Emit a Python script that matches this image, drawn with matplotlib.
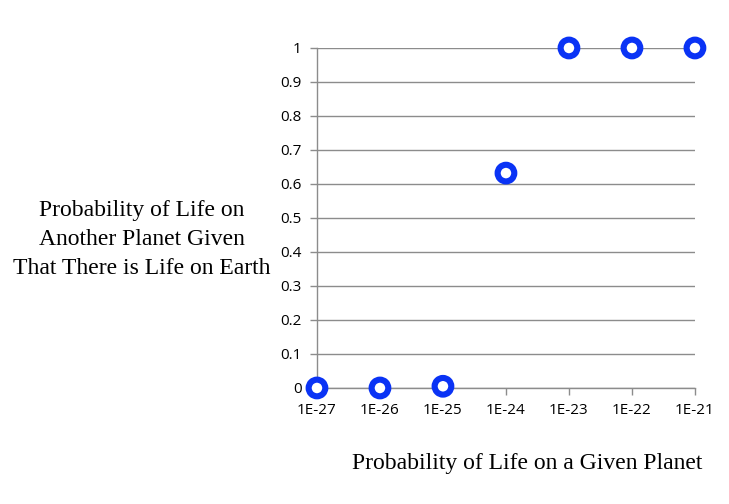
import matplotlib.pyplot as plt
import matplotlib.patheffects as pe

# data
categories = ["1E-27", "1E-26", "1E-25", "1E-24", "1E-23", "1E-22", "1E-21"]
values = [0.0, 0.0, 0.005, 0.632, 1.0, 1.0, 1.0]
yticks = [0, 0.1, 0.2, 0.3, 0.4, 0.5, 0.6, 0.7, 0.8, 0.9, 1]
ytick_labels = ["0", "0.1", "0.2", "0.3", "0.4", "0.5", "0.6", "0.7", "0.8", "0.9", "1"]

fig = plt.figure(figsize=(7.29, 5.04), dpi=100)
ax = fig.add_axes([0.4348, 0.2302, 0.5185, 0.6746])

xs = list(range(len(categories)))
ax.plot(xs, values, linestyle="none", marker="o", markersize=12,
        markerfacecolor="white", markeredgecolor="#0a33f5",
        markeredgewidth=4.4, clip_on=False, zorder=5,
        path_effects=[pe.SimplePatchShadow(offset=(1, -1.5), alpha=0.25), pe.Normal()])

ax.set_xlim(0, len(categories) - 1)
ax.set_ylim(0, 1)
ax.set_xticks(xs)
ax.set_xticklabels(categories, family="Open Sans", fontsize=11)
ax.set_yticks(yticks)
ax.set_yticklabels(ytick_labels, family="Open Sans", fontsize=11)

ax.grid(axis="y", color="#8c8c8c", linewidth=1)
ax.set_axisbelow(True)
for s in ["top", "right"]:
    ax.spines[s].set_visible(False)
for s in ["left", "bottom"]:
    ax.spines[s].set_color("#8c8c8c")
    ax.spines[s].set_linewidth(1)
ax.tick_params(axis="both", color="#8c8c8c", length=5, width=1)
ax.tick_params(axis="y", pad=6)
ax.tick_params(axis="x", pad=6)

fig.text(0.1948, 0.524,
         "Probability of Life on\nAnother Planet Given\nThat There is Life on Earth",
         ha="center", va="center", family="Liberation Serif", fontsize=17,
         linespacing=1.5)
fig.text(0.7229, 0.0813, "Probability of Life on a Given Planet",
         ha="center", va="center", family="Liberation Serif", fontsize=17)

fig.savefig("out.png", dpi=100)
